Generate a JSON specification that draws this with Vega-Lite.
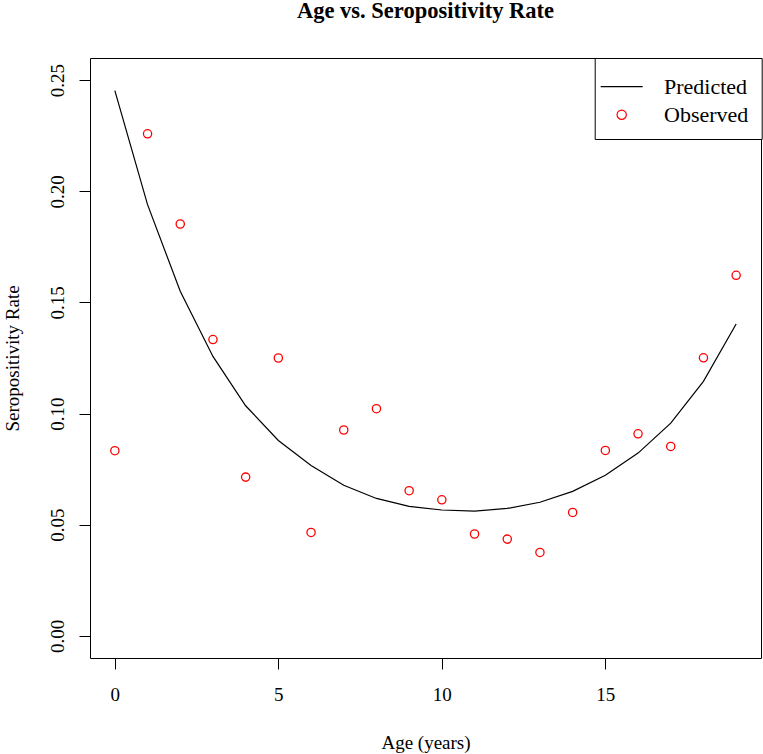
{
  "$schema": "https://vega.github.io/schema/vega-lite/v6.json",
  "width": 671,
  "height": 600,
  "autosize": {"type": "none"},
  "padding": {"left": 90, "top": 58, "right": 2, "bottom": 96},
  "background": "white",
  "title": {
    "text": "Age vs. Seropositivity Rate",
    "font": "Liberation Serif",
    "fontSize": 22.5,
    "fontWeight": "bold",
    "color": "black",
    "anchor": "middle",
    "frame": "group",
    "baseline": "alphabetic",
    "offset": 17
  },
  "config": {
    "view": {"stroke": "black", "strokeWidth": 1},
    "axis": {
      "domain": false,
      "grid": false,
      "tickSize": 11,
      "tickColor": "black",
      "tickWidth": 1,
      "labelFont": "Liberation Serif",
      "labelFontSize": 19,
      "labelColor": "black",
      "labelFlush": false,
      "labelOverlap": false,
      "titleFont": "Liberation Serif",
      "titleFontSize": 19,
      "titleFontWeight": "normal",
      "titleColor": "black"
    }
  },
  "datasets": {
    "predicted": [
      {"age": 0, "rate": 0.2453, "series": "Predicted"},
      {"age": 1, "rate": 0.194, "series": "Predicted"},
      {"age": 2, "rate": 0.155, "series": "Predicted"},
      {"age": 3, "rate": 0.1257, "series": "Predicted"},
      {"age": 4, "rate": 0.1035, "series": "Predicted"},
      {"age": 5, "rate": 0.0879, "series": "Predicted"},
      {"age": 6, "rate": 0.0766, "series": "Predicted"},
      {"age": 7, "rate": 0.0677, "series": "Predicted"},
      {"age": 8, "rate": 0.0618, "series": "Predicted"},
      {"age": 9, "rate": 0.0582, "series": "Predicted"},
      {"age": 10, "rate": 0.0566, "series": "Predicted"},
      {"age": 11, "rate": 0.0561, "series": "Predicted"},
      {"age": 12, "rate": 0.0573, "series": "Predicted"},
      {"age": 13, "rate": 0.0601, "series": "Predicted"},
      {"age": 14, "rate": 0.065, "series": "Predicted"},
      {"age": 15, "rate": 0.0722, "series": "Predicted"},
      {"age": 16, "rate": 0.0822, "series": "Predicted"},
      {"age": 17, "rate": 0.0957, "series": "Predicted"},
      {"age": 18, "rate": 0.1145, "series": "Predicted"},
      {"age": 19, "rate": 0.1403, "series": "Predicted"}
    ],
    "observed": [
      {"age": 0, "rate": 0.0833, "series": "Observed"},
      {"age": 1, "rate": 0.2259, "series": "Observed"},
      {"age": 2, "rate": 0.1853, "series": "Observed"},
      {"age": 3, "rate": 0.1333, "series": "Observed"},
      {"age": 4, "rate": 0.0714, "series": "Observed"},
      {"age": 5, "rate": 0.125, "series": "Observed"},
      {"age": 6, "rate": 0.0465, "series": "Observed"},
      {"age": 7, "rate": 0.0926, "series": "Observed"},
      {"age": 8, "rate": 0.1022, "series": "Observed"},
      {"age": 9, "rate": 0.0653, "series": "Observed"},
      {"age": 10, "rate": 0.0612, "series": "Observed"},
      {"age": 11, "rate": 0.0458, "series": "Observed"},
      {"age": 12, "rate": 0.0435, "series": "Observed"},
      {"age": 13, "rate": 0.0375, "series": "Observed"},
      {"age": 14, "rate": 0.0555, "series": "Observed"},
      {"age": 15, "rate": 0.0834, "series": "Observed"},
      {"age": 16, "rate": 0.0909, "series": "Observed"},
      {"age": 17, "rate": 0.0852, "series": "Observed"},
      {"age": 18, "rate": 0.1251, "series": "Observed"},
      {"age": 19, "rate": 0.1622, "series": "Observed"}
    ]
  },
  "encoding": {
    "x": {
      "field": "age",
      "type": "quantitative",
      "scale": {"domain": [-0.76, 19.76], "nice": false, "zero": false},
      "axis": {
        "values": [0, 5, 10, 15],
        "labelBaseline": "alphabetic",
        "labelPadding": 31,
        "title": "Age (years)",
        "titleBaseline": "alphabetic",
        "titleAlign": "center",
        "titleX": 335.5,
        "titleY": 90
      }
    },
    "y": {
      "field": "rate",
      "type": "quantitative",
      "scale": {"domain": [-0.01, 0.26], "nice": false, "zero": false},
      "axis": {
        "values": [0, 0.05, 0.1, 0.15, 0.2, 0.25],
        "format": ".2f",
        "labelAngle": -90,
        "labelAlign": "center",
        "labelBaseline": "alphabetic",
        "labelPadding": 16,
        "title": "Seropositivity Rate",
        "titleAngle": -90,
        "titleAlign": "center",
        "titleBaseline": "alphabetic",
        "titleX": -71.7,
        "titleY": 300
      }
    },
    "color": {
      "field": "series",
      "type": "nominal",
      "scale": {"domain": ["Predicted", "Observed"], "range": ["black", "red"]},
      "legend": {
        "orient": "none",
        "legendX": 504.7,
        "legendY": 0,
        "title": " ",
        "titleFontSize": 2,
        "titlePadding": 2.7,
        "strokeColor": "black",
        "fillColor": "white",
        "padding": 13,
        "symbolSize": 400,
        "symbolStrokeWidth": 1.2,
        "symbolOffset": 3,
        "rowPadding": 6,
        "labelOffset": 31.3,
        "labelFont": "Liberation Serif",
        "labelFontSize": 22,
        "labelColor": "black",
        "encode": {
          "symbols": {
            "update": {
              "shape": {"signal": "datum.value === 'Predicted' ? 'M-2.1,0H2.1' : 'M-0.465,0A0.465,0.465,0,1,1,0.465,0A0.465,0.465,0,1,1,-0.465,0Z'"},
              "size": {"value": 400},
              "fill": {"value": "transparent"},
              "strokeWidth": {"value": 1.2}
            }
          }
        }
      }
    }
  },
  "layer": [
    {
      "data": {"name": "predicted"},
      "mark": {"type": "line", "strokeWidth": 1.2}
    },
    {
      "data": {"name": "observed"},
      "mark": {"type": "point", "filled": false, "size": 68, "strokeWidth": 1.3, "opacity": 1}
    }
  ]
}
